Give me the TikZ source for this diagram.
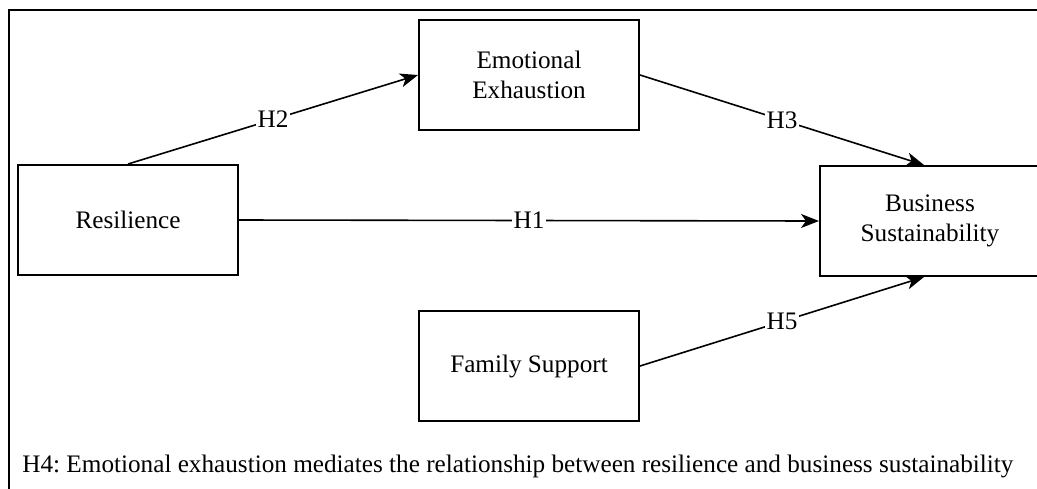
\documentclass[tikz,border=0pt]{standalone}
\usepackage{fontspec}
\setmainfont{Liberation Serif}[Ligatures=TeX]
\usetikzlibrary{arrows.meta}
\frenchspacing
\begin{document}
\begin{tikzpicture}[x=0.5pt, y=-0.5pt,
	box/.style={draw, line width=1pt, minimum width=110pt, minimum height=55pt, align=center, font=\fontsize{12.6}{15}\selectfont},
	link/.style={-{Stealth[length=9pt, width=7pt, inset=2.5pt]}, line width=0.8pt},
	hyp/.style={fill=white, inner sep=1pt, font=\fontsize{12.6}{15}\selectfont}]
	\useasboundingbox (0,0) rectangle (1037,488);
	\clip (0,0) rectangle (1037,488);
	% outer frame
	\draw[line width=1pt] (9,492) -- (9,10) -- (1040,10);
	\node[box] (res) at (128,220) {Resilience};
	\node[box] (emo) at (529,75) {Emotional\\Exhaustion};
	\node[box] (fam) at (529,366) {Family Support};
	\node[box] (bus) at (930,221) {Business\\Sustainability};
	\draw[link] (res.north) -- node[hyp] {H2} (emo.west);
	\draw[link] (emo.east) -- node[hyp] {H3} ([xshift=-3pt]bus.north);
	\draw[link] (res.east) -- node[hyp] {H1} (bus.west);
	\draw[link] (fam.east) -- node[hyp] {H5} ([xshift=-3pt]bus.south);
	\node[anchor=west, inner sep=0pt, font=\fontsize{12.6}{15}\selectfont] (note) at (22,466)
		{H4: Emotional exhaustion mediates the relationship between resilience and business sustainability};
\end{tikzpicture}
\end{document}
